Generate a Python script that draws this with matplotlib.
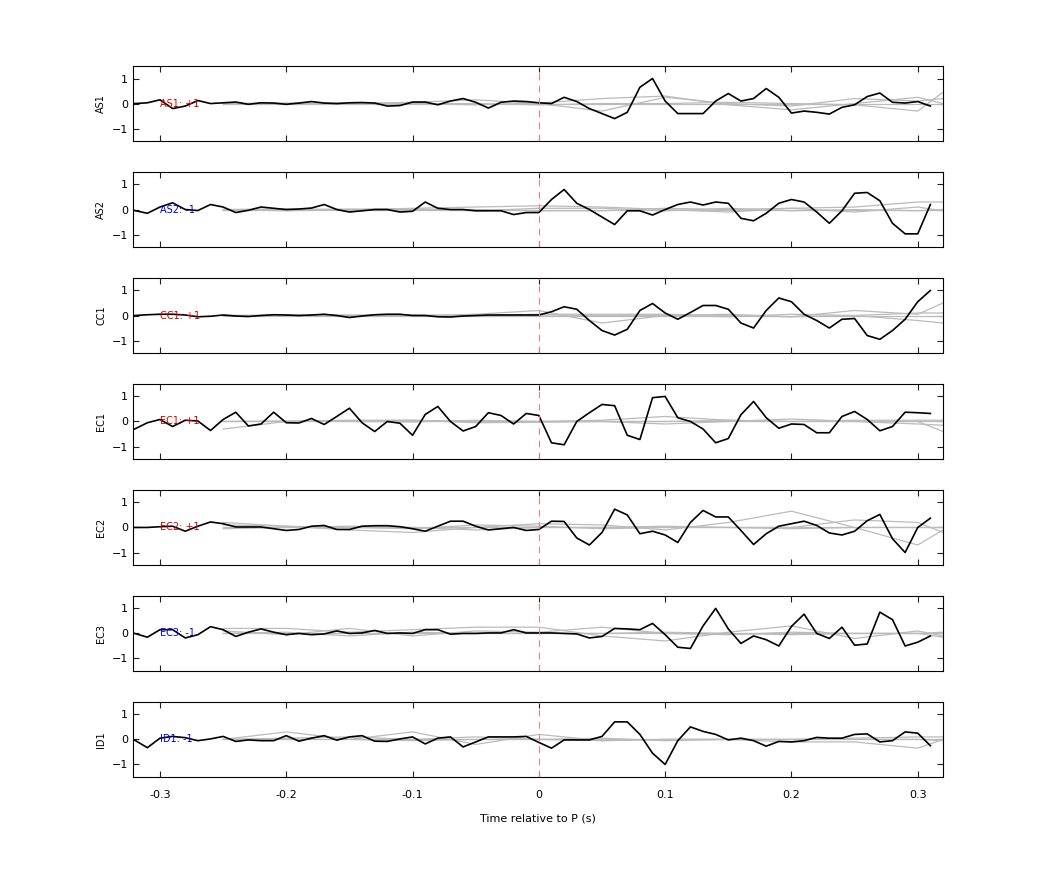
import matplotlib
matplotlib.use("Agg")
import matplotlib.pyplot as plt
import numpy as np

t = np.round(np.arange(-0.32, 0.315, 0.01), 2)
tg = [-0.25, -0.20, -0.15, -0.10, -0.05, 0.0, 0.05, 0.10, 0.15, 0.20, 0.25, 0.30, 0.32]

stations = ["AS1", "AS2", "CC1", "EC1", "EC2", "EC3", "ID1"]
polarity = ["+1", "-1", "+1", "+1", "+1", "-1", "-1"]

as1 = [0, 0.03, 0.15, -0.2, -0.1, 0.12, 0.0, 0.03, 0.06, -0.03, 0.03, 0.02, -0.03, 0.02, 0.08, 0.02,
       0.0, 0.03, 0.04, 0.02, -0.1, -0.08, 0.06, 0.06, -0.05, 0.1, 0.2, 0.05, -0.18, 0.05, 0.1, 0.08,
       0.03, 0.0, 0.25, 0.08, -0.2, -0.4, -0.6, -0.35, 0.65, 1.0, 0.1, -0.4, -0.4, -0.4, 0.1, 0.4,
       0.1, 0.2, 0.6, 0.25, -0.38, -0.3, -0.35, -0.42, -0.15, -0.05, 0.28, 0.42, 0.05, 0.02, 0.08, -0.1]
as2 = [-0.04, -0.15, 0.1, 0.27, 0.0, -0.04, 0.2, 0.1, -0.12, -0.03, 0.1, 0.05, 0.0, 0.02, 0.06, 0.2,
       0.0, -0.1, -0.05, 0.0, 0.0, -0.1, -0.07, 0.3, 0.05, 0.0, 0.0, -0.05, -0.05, -0.05, -0.2, -0.12,
       -0.12, 0.4, 0.8, 0.25, 0.0, -0.3, -0.6, -0.05, -0.05, -0.22, 0.0, 0.2, 0.3, 0.18, 0.3, 0.25,
       -0.35, -0.45, -0.15, 0.25, 0.4, 0.3, -0.1, -0.55, -0.05, 0.65, 0.68, 0.35, -0.55, -0.97, -0.97, 0.2]
cc1 = [0, 0.03, 0.05, 0.05, 0.02, -0.05, -0.03, 0.02, -0.02, -0.04, 0.0, 0.03, 0.02, 0.0, 0.02, 0.05,
       0.0, -0.08, -0.02, 0.03, 0.05, 0.05, 0.0, 0.0, -0.05, -0.06, -0.02, 0.0, 0.02, 0.02, 0.02, 0.02,
       0.02, 0.15, 0.35, 0.25, -0.2, -0.6, -0.78, -0.55, 0.2, 0.48, 0.1, -0.15, 0.12, 0.4, 0.4, 0.25,
       -0.3, -0.5, 0.2, 0.7, 0.55, 0.05, -0.2, -0.5, -0.15, -0.12, -0.8, -0.95, -0.6, -0.15, 0.55, 1.0]
ec1 = [-0.3, -0.05, 0.08, -0.2, 0.05, 0.02, -0.36, 0.08, 0.37, -0.18, -0.1, 0.37, -0.05, -0.06, 0.12, -0.12,
       0.2, 0.53, -0.05, -0.4, 0.0, -0.07, -0.55, 0.28, 0.6, 0.0, -0.38, -0.2, 0.35, 0.24, -0.1, 0.32,
       0.24, -0.85, -0.93, 0.0, 0.35, 0.68, 0.63, -0.55, -0.72, 0.95, 1.0, 0.15, 0.0, -0.3, -0.85, -0.68,
       0.27, 0.8, 0.15, -0.27, -0.1, -0.12, -0.45, -0.45, 0.2, 0.4, 0.08, -0.37, -0.2, 0.37, 0.35, 0.32]
ec2 = [0.0, 0.0, 0.03, 0.05, -0.15, 0.05, 0.22, 0.15, 0.02, 0.02, 0.02, -0.05, -0.12, -0.08, 0.05, 0.08,
       -0.08, -0.08, 0.05, 0.07, 0.07, 0.03, -0.05, -0.15, 0.05, 0.25, 0.25, 0.05, -0.1, -0.05, 0.0, -0.12,
       -0.08, 0.25, 0.24, -0.42, -0.7, -0.2, 0.73, 0.5, -0.25, -0.15, -0.3, -0.6, 0.2, 0.68, 0.42, 0.42,
       -0.12, -0.68, -0.25, 0.05, 0.15, 0.25, 0.08, -0.22, -0.3, -0.15, 0.27, 0.52, -0.45, -1.0, 0.0, 0.37]
ec3 = [0.0, -0.15, 0.15, 0.15, -0.18, -0.05, 0.27, 0.15, -0.12, 0.05, 0.18, 0.05, -0.05, 0.0, -0.05, -0.02,
       0.1, 0.0, 0.02, 0.12, 0.0, 0.02, 0.0, 0.15, 0.15, -0.03, 0.0, 0.0, 0.02, 0.02, 0.15, 0.02,
       0.02, 0.02, 0.0, -0.02, -0.18, -0.12, 0.2, 0.18, 0.15, 0.4, -0.05, -0.55, -0.6, 0.3, 1.0, 0.18,
       -0.4, -0.1, -0.25, -0.5, 0.28, 0.77, 0.0, -0.2, 0.25, -0.47, -0.42, 0.85, 0.55, -0.5, -0.35, -0.1]
id1 = [-0.03, -0.33, 0.05, 0.12, 0.07, -0.05, 0.02, 0.12, -0.08, -0.02, -0.05, -0.05, 0.15, -0.07, 0.05, 0.15,
       -0.03, 0.1, 0.15, -0.07, -0.08, 0.02, 0.1, -0.18, 0.05, 0.1, -0.3, -0.1, 0.1, 0.1, 0.1, 0.12,
       -0.12, -0.35, -0.02, -0.02, -0.02, 0.12, 0.7, 0.7, 0.2, -0.55, -1.0, -0.05, 0.5, 0.32, 0.2, -0.02,
       0.05, -0.05, -0.27, -0.08, -0.1, -0.05, 0.08, 0.05, 0.05, 0.2, 0.22, -0.1, -0.05, 0.3, 0.25, -0.25]
traces = [as1, as2, cc1, ec1, ec2, ec3, id1]

# gray synthetic traces, sampled at tg
gray = [
    [[0.0, 0.02, 0.0, 0.05, 0.15, 0.0, -0.3, 0.25, 0.0, -0.1, 0.2, 0.1, 0.2],
     [0.0, 0.0, 0.02, 0.0, -0.05, 0.02, 0.2, 0.3, -0.05, -0.25, 0.0, 0.25, 0.0],
     [0.0, 0.0, 0.0, 0.0, 0.0, -0.05, 0.0, 0.0, 0.05, 0.0, -0.05, -0.3, 0.45]],
    [[0.0, 0.02, -0.02, 0.05, 0.1, 0.15, 0.1, 0.0, -0.1, 0.05, 0.1, 0.3, 0.3],
     [0.0, -0.05, 0.0, 0.02, -0.05, 0.05, 0.05, -0.05, 0.05, -0.05, 0.0, -0.05, 0.0],
     [0.0, 0.0, 0.02, 0.0, 0.0, -0.05, -0.05, 0.05, 0.0, 0.05, -0.1, 0.1, -0.05]],
    [[0.0, 0.02, 0.0, -0.02, 0.05, 0.2, -0.3, 0.0, 0.05, -0.05, 0.2, 0.05, 0.5],
     [0.0, 0.0, 0.02, 0.02, 0.0, 0.05, 0.05, 0.05, 0.0, -0.05, 0.0, -0.2, -0.3],
     [0.0, -0.02, 0.0, 0.0, 0.0, -0.02, 0.0, 0.0, -0.05, 0.05, 0.0, 0.1, 0.1]],
    [[-0.3, 0.0, 0.05, 0.05, 0.0, 0.0, 0.05, 0.2, 0.05, 0.0, 0.0, 0.0, -0.4],
     [0.0, 0.0, 0.02, 0.05, -0.05, -0.03, 0.0, -0.1, 0.0, 0.1, 0.0, -0.1, -0.15],
     [0.0, 0.02, 0.0, -0.02, 0.05, 0.0, 0.0, 0.0, 0.05, 0.0, 0.05, 0.05, 0.05]],
    [[0.2, 0.05, -0.1, -0.2, 0.0, 0.15, 0.1, -0.1, 0.2, 0.65, 0.0, -0.7, -0.1],
     [0.1, 0.05, 0.0, -0.05, 0.1, 0.05, -0.05, 0.0, 0.0, 0.0, 0.3, 0.2, -0.2],
     [-0.05, 0.0, 0.05, 0.0, -0.1, 0.0, 0.0, 0.05, 0.0, -0.05, 0.0, 0.0, 0.0]],
    [[0.2, 0.2, 0.05, 0.15, 0.25, 0.25, -0.1, -0.3, 0.05, 0.3, -0.2, 0.1, -0.1],
     [0.1, -0.05, 0.2, -0.1, 0.1, 0.05, 0.25, 0.0, -0.05, 0.05, 0.0, 0.0, -0.15],
     [0.0, 0.05, -0.1, 0.05, 0.0, 0.0, 0.0, 0.05, 0.0, -0.05, 0.0, 0.0, 0.05]],
    [[0.0, 0.3, 0.0, 0.3, -0.2, 0.2, -0.05, 0.0, 0.0, -0.1, -0.1, -0.35, 0.0],
     [0.0, 0.05, 0.1, 0.0, 0.1, 0.0, 0.05, -0.05, 0.0, 0.0, 0.05, 0.1, 0.1],
     [0.0, 0.0, 0.0, -0.05, 0.0, 0.0, -0.05, 0.0, 0.0, 0.0, 0.0, 0.0, -0.05]],
]

fig, axes = plt.subplots(7, 1, figsize=(10.42, 8.75), dpi=100, sharex=True)
fig.subplots_adjust(left=0.1276, right=0.905, top=0.9246, bottom=0.112, hspace=0.41)

for i, ax in enumerate(axes):
    for g in gray[i]:
        ax.plot(tg, g, color="#bbbbbb", lw=0.9)
    ax.plot([-0.25, 0.32], [0, 0], color="#bbbbbb", lw=0.9)
    ax.plot(t, traces[i], color="black", lw=1.2)
    ax.axvline(0, color="#e88080", ls=(0, (6, 5)), lw=0.8)
    col = "#d00000" if polarity[i] == "+1" else "#0000dd"
    ax.text(-0.3, 0, stations[i] + ": " + polarity[i], color=col, fontsize=7, va="center", ha="left")
    ax.set_ylim(-1.5, 1.5)
    ax.set_xlim(-0.3214, 0.32)
    ax.set_yticks([-1, 0, 1])
    ax.set_ylabel(stations[i], fontsize=7)
    ax.tick_params(direction="in", top=True, right=True, labelsize=8, length=4, color="#222222")
    for s in ax.spines.values():
        s.set_linewidth(0.8)

axes[-1].set_xticks([-0.3, -0.2, -0.1, 0, 0.1, 0.2, 0.3])
axes[-1].set_xticklabels(["-0.3", "-0.2", "-0.1", "0", "0.1", "0.2", "0.3"])
axes[-1].tick_params(axis="x", pad=9)
axes[-1].set_xlabel("Time relative to P (s)", fontsize=8, labelpad=10)

fig.savefig("out.png", dpi=100)
